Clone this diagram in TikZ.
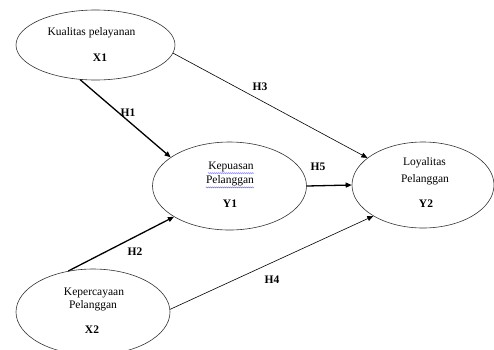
\documentclass[tikz,border=0pt]{standalone}
\usepackage{fontspec}
\setmainfont{Liberation Serif}
\usetikzlibrary{shapes.geometric,arrows.meta,decorations.pathmorphing}
\begin{document}
\begin{tikzpicture}[x=1pt,y=-1pt,
  ell/.style={draw=black!80,line width=0.6pt,ellipse,inner sep=0pt},
  txt/.style={font=\fontsize{11.5}{13}\selectfont,inner sep=0pt},
  lab/.style={font=\fontsize{11.5}{13}\selectfont\bfseries,inner sep=0pt},
  thinarr/.style={line width=0.6pt,-{Triangle[length=6pt,width=5pt]}},
  thickarr/.style={line width=1.3pt,-{Triangle[length=6pt,width=5pt]}},
  wavy/.style={blue!70,line width=0.3pt,decorate,decoration={snake,amplitude=0.6pt,segment length=2pt}}]
\useasboundingbox (0,0) rectangle (494,349);
% ellipses
\node[ell,minimum width=159pt,minimum height=70pt] (x1) at (95.5,45) {};
\node[ell,minimum width=154pt,minimum height=88pt] (y1) at (229.5,186) {};
\node[ell,minimum width=142pt,minimum height=86pt] (y2) at (423,185) {};
\node[ell,minimum width=154pt,minimum height=86pt] (x2) at (93,312) {};
% texts
\node[txt] (t1) at (91.5,33) {Kualitas pelayanan};
\node[lab] (t2) at (100,58) {X1};
\node[txt] (t3) at (231,167) {Kepuasan};
\node[txt] (t4) at (230,181) {Pelanggan};
\node[lab] (t5) at (230,204) {Y1};
\node[txt] (t6) at (424.5,163) {Loyalitas};
\node[txt] (t7) at (425,180) {Pelanggan};
\node[lab] (t8) at (426,204) {Y2};
\node[txt] (t9) at (94,293) {Kepercayaan};
\node[txt] (t10) at (93,306) {Pelanggan};
\node[lab] (t11) at (92,330) {X2};
% wavy underlines
\draw[wavy] ([yshift=-1pt]t3.south west) -- ([yshift=-1pt]t3.south east);
\draw[wavy] ([yshift=-1pt]t4.south west) -- ([yshift=-1pt]t4.south east);
% connectors
\draw[thickarr] (x1.-114) -- (y1.154);
\draw[thickarr] (x2.121) -- (y1.-151);
\draw[thinarr] (x1.-6) -- (y2.154);
\draw[thinarr] (x2.2) -- (y2.-148);
\draw[thickarr] (y1.east) -- (y2.west);
% labels
\node[lab] (h1) at (128,113) {H1};
\node[lab] (h2) at (135,252) {H2};
\node[lab] (h3) at (260,87) {H3};
\node[lab] (h4) at (272,280) {H4};
\node[lab] (h5) at (318,167) {H5};
\end{tikzpicture}
\end{document}
